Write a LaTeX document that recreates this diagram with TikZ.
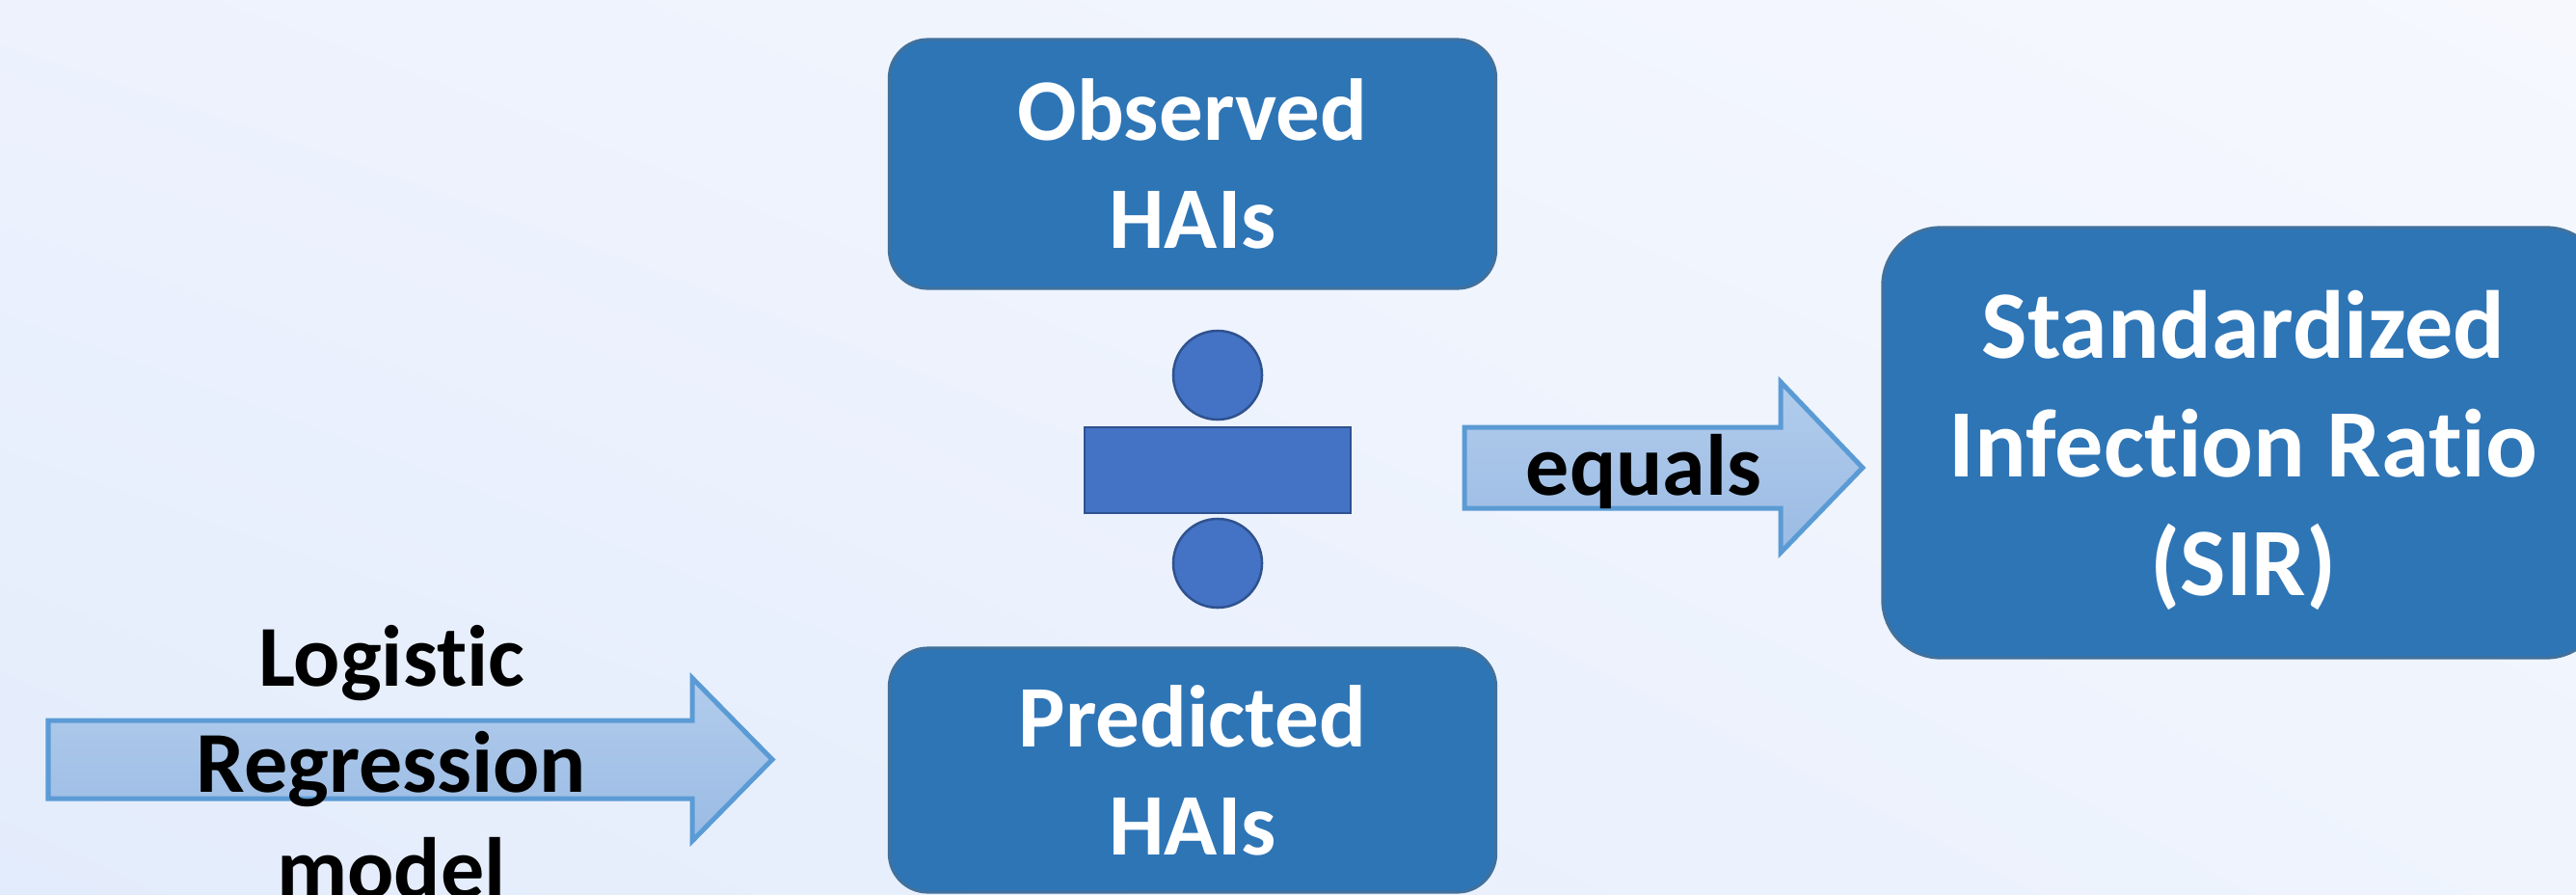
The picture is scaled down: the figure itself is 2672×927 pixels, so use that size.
\documentclass[tikz,border=0pt]{standalone}
\usepackage{fontspec}
\setmainfont{Carlito}[RawFeature={-liga;-clig}]
\usetikzlibrary{shadings}
\definecolor{boxfill}{HTML}{2E75B6}
\definecolor{boxline}{HTML}{41719C}
\definecolor{opfill}{HTML}{4472C4}
\definecolor{opline}{HTML}{2F528F}
\definecolor{arrline}{HTML}{5B9BD5}
\definecolor{arrtop}{HTML}{B1CCEC}
\definecolor{arrbot}{HTML}{9BBBE4}
\definecolor{bgTL}{HTML}{EDF2FD}
\definecolor{bgTR}{HTML}{F6F8FE}
\definecolor{bgBL}{HTML}{E3ECFC}
\definecolor{bgBR}{HTML}{EFF4FD}
\tikzset{
  hbox/.style={draw=boxline, line width=0.03cm, fill=boxfill, rounded corners=0.4cm,
    inner sep=0pt, outer sep=0pt, text=white, align=center,
    font=\bfseries\fontsize{25.9pt}{31.9pt}\selectfont},
  opshape/.style={draw=opline, fill=opfill, line width=0.025cm, inner sep=0pt, outer sep=0pt},
  blockarrow/.style={draw=arrline, line width=0.05cm, line join=miter, top color=arrtop, bottom color=arrbot},
  lbl/.style={text=black, inner sep=0pt, font=\bfseries\fontsize{25.6pt}{31.3pt}\selectfont}
}
\begin{document}
\begin{tikzpicture}[x=0.01cm,y=-0.01cm]
\useasboundingbox (0,0) rectangle (2672,927);
\clip (0,0) rectangle (2672,927);
\shade[upper left=bgTL, upper right=bgTR, lower left=bgBL, lower right=bgBR] (0,0) rectangle (2672,927);

% boxes
\node[hbox, minimum width=6.29cm, minimum height=2.58cm] (obs) at (1237,170) {Observed\\HAIs};
\node[hbox, minimum width=6.29cm, minimum height=2.53cm] (pred) at (1237,798.5) {Predicted\\HAIs};
\node[hbox, rounded corners=0.6cm, minimum width=7.48cm, minimum height=4.46cm, text depth=0pt,
  font=\bfseries\fontsize{28.5pt}{35pt}\selectfont] (sir) at (2327,459) {Standardized\\Infection Ratio\\(SIR)};

% division sign
\node[opshape, circle, minimum size=0.92cm] (dotA) at (1263,389) {};
\node[opshape, rectangle, minimum width=2.76cm, minimum height=0.89cm] (bar) at (1263,487.5) {};
\node[opshape, circle, minimum size=0.92cm] (dotB) at (1263,584) {};

% block arrows
\path[blockarrow] (50,747) -- (718,747) -- (718,703) -- (801,787.5) -- (718,872) -- (718,828) -- (50,828) -- cycle;
\path[blockarrow] (1519,443) -- (1847,443) -- (1847,396) -- (1932,485) -- (1847,573) -- (1847,527) -- (1519,527) -- cycle;

% labels
\node[lbl, anchor=base] (eq) at (1705,513) {equals};
\node[lbl, align=center] (lr) at (406,790) {Logistic\\Regression\\model};
\end{tikzpicture}
\end{document}
